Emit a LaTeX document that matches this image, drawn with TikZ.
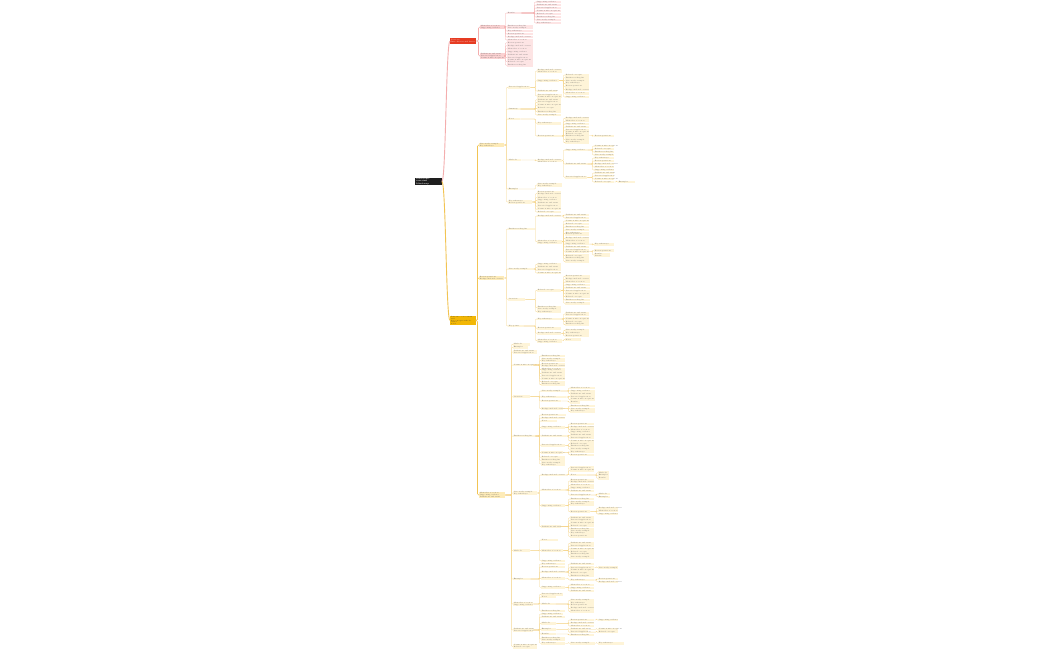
\documentclass[tikz,border=0pt]{standalone}
\usepackage{fontspec}
\definecolor{pfill}{HTML}{FDE4E4}
\definecolor{pfillB}{HTML}{FBD2D2}
\definecolor{pline}{HTML}{F4AEAE}
\definecolor{rmain}{HTML}{E63B22}
\definecolor{yfill}{HTML}{FEF4D8}
\definecolor{yfillB}{HTML}{FDEBB8}
\definecolor{yline}{HTML}{F6D68C}
\definecolor{ylineB}{HTML}{F2C453}
\definecolor{omain}{HTML}{F2B705}
\definecolor{rootc}{HTML}{1E1E1E}
\newcounter{tc}
\newcommand\mypickS{\stepcounter{tc}\pgfmathtruncatemacro\kk{mod(\the\value{tc},9)}\mbox{\ifcase\kk Overview\or Key points\or Summary\or Notes\or Methods\or Examples\or Results\or Details\or Scope\fi}}
\newcommand\mypickL{\stepcounter{tc}\pgfmathtruncatemacro\kk{mod(\the\value{tc},11)}\mbox{\ifcase\kk Background and context\or Main idea of section\or Supporting evidence\or Definitions and terms\or Practical application\or Common misconceptions\or Related concepts\or Further reading list\or Case study example\or Key takeaways\or Review questions\fi}}
\newcommand\mytxt[2]{\ifdim #1pt<18pt\let\mypk\mypickS\else\let\mypk\mypickL\fi\ifcase#2\or\mypk\or\mypk\\\mypk\or\mypk\\\mypk\\\mypk\fi}
\newcommand\grp[6]{%
 \foreach \yy/\ww/\nn [count=\i] in {#6}{%
  \pgfmathsetmacro\tw{\ww-1.2}%
  \node[#1, text width=\tw pt] (#4\i) at (#5,\yy) {\mytxt{\ww}{\nn}};
  \draw[#2] (#3.east) -| ([xshift=-1.5pt]#4\i.west) -- (#4\i.west);
 }}
\tikzset{
 leafbase/.style={anchor=west, inner xsep=0.6pt, inner ysep=0.35pt, minimum height=2.6pt, font=\fontsize{1.6pt}{1.95pt}\selectfont, align=left, text=black!65},
 pleaf/.style={leafbase, fill=pfill},
 pleafB/.style={leafbase, fill=pfillB},
 yleaf/.style={leafbase, fill=yfill},
 yleafB/.style={leafbase, fill=yfillB},
 pedge/.style={draw=pline, line width=0.35pt, rounded corners=0.8pt},
 yedge/.style={draw=yline, line width=0.35pt, rounded corners=0.8pt},
 pedgeB/.style={draw=pline, line width=0.6pt, rounded corners=1.2pt},
 yedgeB/.style={draw=ylineB, line width=0.6pt, rounded corners=1.2pt},
 mainbox/.style={anchor=west, inner xsep=1pt, inner ysep=0.5pt, align=left},
}
\begin{document}
\begin{tikzpicture}[x=1pt,y=-1pt]
\fill[white] (0,0) rectangle (1050,650);
\useasboundingbox (0,0) rectangle (1050,650);
% main nodes
\node[mainbox, fill=rootc, text=white, text width=24.5pt, minimum height=6.7pt, font=\fontsize{1.9pt}{2.4pt}\selectfont\bfseries] (root) at (415,181.5) {Main topic overview\\Mind map};
\node[mainbox, fill=rmain, text=white, text width=24pt, minimum height=5.4pt, font=\fontsize{1.7pt}{2.1pt}\selectfont] (R) at (450,41) {Part one\\Introduction and basics};
\node[mainbox, fill=omain, text=black!80, text width=24pt, minimum height=5.8pt, font=\fontsize{1.6pt}{1.9pt}\selectfont] (O) at (450,320.5) {Part two: core content and\\key concepts with detailed\\notes};
\draw[draw=pline, line width=0.9pt] (root.east) .. controls ([xshift=4pt]root.east) and ([xshift=-4pt]R.west) .. (R.west);
\draw[draw=ylineB, line width=0.9pt] (root.east) .. controls ([xshift=4pt]root.east) and ([xshift=-4pt]O.west) .. (O.west);
% red branch
\grp{pleafB}{pedgeB}{R}{ra}{480}{27/25/2, 56/25/3}
\grp{pleaf}{pedge}{ra1}{rb}{507}{13/14/1, 27/26/2, 31/26/1, 34/26/1, 37/26/1, 40/26/1}
\grp{pleaf}{pedge}{rb1}{rc}{536}{2/25/1, 5/25/1, 8/25/1, 11/25/1, 14/25/1, 17/25/1, 20/25/1, 23/25/1}
\grp{pleaf}{pedge}{ra2}{rd}{507}{42.7/26/1, 45.7/26/1, 48.7/26/1, 51.7/26/1, 54.7/26/1, 57.7/26/1, 61.5/26/2, 65.3/26/1}
% orange branch level 2
\grp{yleafB}{yedgeB}{O}{oa}{479}{145/25/2, 278/25/2, 495/26/3}
% O1
\grp{yleaf}{yedge}{oa1}{ob}{508}{87.3/22/1, 109/12/1, 119/12/1, 160/13/1, 189/10/1, 202/24/2}
\grp{yleaf}{yedge}{ob1}{oc}{537}{71/25/2, 80.7/22/1, 91/20/1, 96/25/2}
\grp{yleaf}{yedge}{oc2}{od}{565}{75/24/1, 77.8/24/1, 80.7/24/1, 83.6/24/1, 86.5/24/1, 89.8/24/1, 93.3/24/1, 97/24/1}
\grp{yleaf}{yedge}{ob2}{oe}{537}{99.7/24/1, 102.6/24/1, 105.5/24/1, 108.4/24/1, 111.8/24/1, 115/24/1}
\grp{yleaf}{yedge}{ob3}{of}{537}{123.3/24/1, 136/25/1}
\grp{yleaf}{yedge}{of2}{og}{565}{118.3/24/1, 121.2/24/1, 124.1/24/1, 127/24/1, 130.7/24/2, 135.5/24/2, 139.8/24/1, 142.6/24/1}
\grp{yleaf}{yedge}{og6}{oh}{594}{136/20/1}
\grp{yleaf}{yedge}{ob4}{oi}{537}{160.5/25/2}
\grp{yleaf}{yedge}{oi1}{oj}{565}{150/22/1, 164/22/1, 177.3/22/1}
\grp{yleaf}{yedge}{oj1}{ok}{594}{146/20/1, 149/20/1, 152/20/1, 155/20/1}
\grp{yleaf}{yedge}{oj2}{ol}{594}{158/20/1, 161/20/1, 164/20/1, 167/20/1, 170/20/1}
\grp{yleaf}{yedge}{oj3}{om}{594}{173/20/1, 176/20/1, 179/20/1, 182/20/1}
\grp{yleaf}{yedge}{om4}{on}{618}{182/17/1}
\grp{yleaf}{yedge}{ob5}{oo}{537}{185/25/2}
\grp{yleaf}{yedge}{ob6}{op}{537}{193.5/24/2, 197.5/24/1, 200.4/24/1, 203.3/24/1, 206.2/24/1, 209.1/24/1, 212/24/1}
% O2
\grp{yleaf}{yedge}{oa2}{oq}{508}{229/26/1, 269/25/1, 299.3/17/1, 326/15/1}
\grp{yleaf}{yedge}{oq1}{or}{537}{216/24/1, 241.7/25/2}
\grp{yleaf}{yedge}{or1}{os}{565}{215/24/1, 218/24/1}
\grp{yleaf}{yedge}{or2}{ot}{565}{221/24/1, 224/24/1, 227/24/1, 230/24/1, 233.6/24/2, 238.3/24/1, 241.2/24/1, 244.1/24/1, 247/24/1, 251.3/24/2, 255.6/24/1, 258.5/24/1, 261.4/24/1}
\grp{yleaf}{yedge}{ot8}{ou}{594}{244.4/20/1}
\grp{yleaf}{yedge}{ot10}{ov}{594}{250.7/20/1, 255/16/2}
\grp{yleaf}{yedge}{oq2}{ow}{537}{264.3/24/1, 267.2/24/1, 270.1/24/1, 273/24/1}
\grp{yleaf}{yedge}{oq3}{ox}{537}{290.3/24/1, 307.7/24/2, 311.7/24/1}
\grp{yleaf}{yedge}{ox1}{oy}{565}{276.3/25/1, 279.2/25/1, 282.1/25/1, 285/25/1, 287.9/25/1, 290.8/25/1, 293.7/25/1, 296.6/25/1, 299.9/25/1, 303.2/25/1}
\grp{yleaf}{yedge}{oq4}{oz}{537}{319/24/1, 328.3/24/1, 333.3/24/1, 340.8/25/2}
\grp{yleaf}{yedge}{oz1}{pa}{565}{314/24/2, 318.6/24/1, 321.6/24/1, 324.6/24/1}
\grp{yleaf}{yedge}{oz3}{pb}{565}{330.4/24/1, 333.2/24/1, 336/24/1}
\grp{yleaf}{yedge}{oz4}{pc}{565}{339.6/16/1}
% O3
\grp{yleaf}{yedge}{oa3}{qa}{513}{344.3/17/1, 347.3/15/1, 352/24/2, 365/20/1, 396.7/17/1, 436/22/1, 493/24/2, 550.7/17/1, 579/17/1, 604/20/2, 630/20/2, 646.5/24/2}
\grp{yleaf}{yedge}{qa4}{qb}{541}{356/24/1, 360.3/24/2, 365/24/2, 369.6/24/2, 373.4/24/1, 376.2/24/1, 379/24/1, 381.8/24/1, 384.6/24/1}
\grp{yleaf}{yedge}{qa5}{qc}{541}{391/19/1, 397/25/1, 401/20/1, 408.7/22/1}
\grp{yleaf}{yedge}{qc1}{qd}{570}{388/25/1, 390.8/25/1, 393.6/25/1}
\grp{yleaf}{yedge}{qc2}{qe}{570}{396.6/25/1, 399.4/25/1}
\grp{yleaf}{yedge}{qc3}{qf}{570}{402.2/10/1}
\grp{yleaf}{yedge}{qc4}{qg}{570}{406/25/1, 408.8/25/1, 411.6/25/1}
\grp{yleaf}{yedge}{qa6}{qh}{541}{415/25/1, 418/24/1, 421/16/1, 427.3/24/1, 436/25/1, 445.3/24/1, 452.7/22/1, 457.3/24/1, 460.3/24/1, 464/24/2}
\grp{yleaf}{yedge}{qh4}{qi}{570}{424/24/1, 426.8/24/1, 429.6/24/1, 432.4/24/1}
\grp{yleaf}{yedge}{qh5}{qj}{570}{435.2/24/1, 438/24/1, 440.8/24/1}
\grp{yleaf}{yedge}{qh6}{qk}{570}{443.6/24/1, 446.4/24/1, 449.2/24/1}
\grp{yleaf}{yedge}{qh7}{ql}{570}{452/24/1, 454.8/24/1}
\grp{yleaf}{yedge}{qa7}{qm}{541}{475/24/1, 490/24/1, 505.7/24/1, 526.7/20/1}
\grp{yleaf}{yedge}{qm1}{qn}{570}{467.7/24/1, 470.5/24/1, 475/16/1}
\grp{yleaf}{yedge}{qn3}{qo}{598}{472.7/11/1, 475.5/11/1, 478.3/11/1}
\grp{yleaf}{yedge}{qm2}{qp}{570}{481/24/2, 485.2/24/1, 488/24/1, 490.8/24/1, 495/20/1}
\grp{yleaf}{yedge}{qp5}{qq}{598}{494/12/1, 496.8/12/1}
\grp{yleaf}{yedge}{qm3}{qr}{570}{499/24/1, 501.8/24/1, 504.6/24/1, 511.7/20/1}
\grp{yleaf}{yedge}{qr4}{qs}{598}{508.3/20/1, 511.1/20/1, 513.9/20/1}
\grp{yleaf}{yedge}{qm4}{qt}{570}{517.7/24/1, 520.5/24/1, 523.3/24/1, 526.1/24/1, 528.9/24/1, 532.5/24/2, 536.5/24/1}
\grp{yleaf}{yedge}{qa8}{qu}{541}{540/17/1, 550.7/22/1, 560.8/24/1}
\grp{yleaf}{yedge}{qu2}{qv}{570}{543.3/24/1, 546.1/24/1, 548.9/24/1, 551.7/24/1, 554.5/24/1, 557.3/24/1}
\grp{yleaf}{yedge}{qa9}{qw}{541}{564/24/1, 567/24/1, 572/24/1, 578.3/24/1, 587.3/24/1}
\grp{yleaf}{yedge}{qw3}{qx}{570}{564/24/1, 567.7/24/1, 570.5/24/1, 573.3/24/1, 576.1/24/1}
\grp{yleaf}{yedge}{qx2}{qy}{598}{567.7/20/1}
\grp{yleaf}{yedge}{qw4}{qz}{570}{580/24/1}
\grp{yleaf}{yedge}{qz1}{sa}{598}{579/20/1, 581.8/20/1}
\grp{yleaf}{yedge}{qw5}{sb}{570}{585/24/1, 588/24/1, 591/24/1}
\grp{yleaf}{yedge}{qa10}{sc}{541}{594.3/22/1, 597/15/1, 604/14/1, 611/24/1}
\grp{yleaf}{yedge}{sc3}{sd}{570}{600.3/24/1, 604.5/24/2, 608.6/24/1, 611.4/24/1}
\grp{yleaf}{yedge}{qa11}{se}{541}{614/22/1, 617/24/1, 623.3/15/1, 629.3/15/1, 634/15/1, 639/24/2, 643.3/24/1}
\grp{yleaf}{yedge}{se3}{sf}{570}{620/24/1, 623/24/1, 626/24/1}
\grp{yleaf}{yedge}{sf1}{sg}{598}{620/20/1}
\grp{yleaf}{yedge}{se4}{sh}{570}{629.3/18/1, 632.1/18/1}
\grp{yleaf}{yedge}{sh1}{si}{598}{629.3/20/1}
\grp{yleaf}{yedge}{sh2}{sj}{598}{632.1/20/1}
\grp{yleaf}{yedge}{se5}{sk}{570}{635/24/1}
\grp{yleaf}{yedge}{se7}{sl}{570}{643.3/25/1}
\grp{yleaf}{yedge}{sl1}{sm}{598}{643.3/26/1}
\end{tikzpicture}
\end{document}
